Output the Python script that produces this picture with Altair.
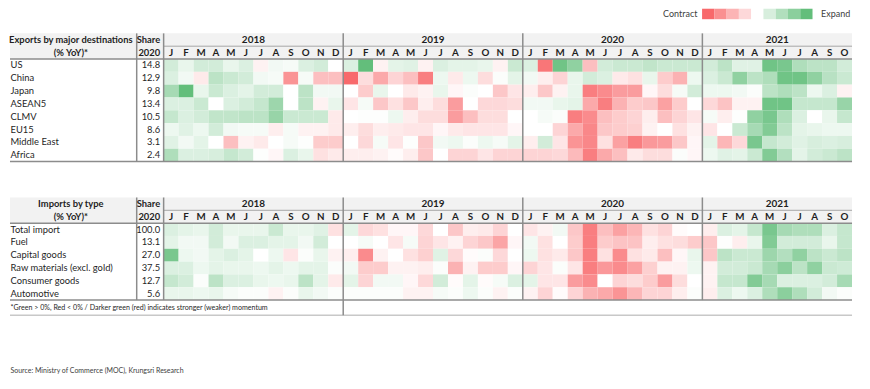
import altair as alt
import pandas as pd

# ---------------- data ----------------
years = ["2018", "2019", "2020", "2021"]
months_per_year = [12, 12, 12, 10]
month_letters = ["J", "F", "M", "A", "M", "J", "J", "A", "S", "O", "N", "D"]

export_title = ["Exports by major destinations", "(% YoY)*"]
export_rows = ["US", "China", "Japan", "ASEAN5", "CLMV", "EU15", "Middle East", "Africa"]
export_share = ["14.8", "12.9", "9.8", "13.4", "10.5", "8.6", "3.1", "2.4"]

us = [1, 0.5, 1, 1, 0.5, 0.8, -0.3, 0.3, 0.2, 0.8, 1, 0,
      0.8, 3.5, -0.3, 0.6, 0.7, -0.3, 0.8, 0.6, 0.6, 0.5, -0.3, 1.2,
      0.8, -3.2, 3.2, 2.5, -1.5, 1, 1.2, 1.2, 1.4, 1.2, 1.2, 1.2,
      1, 1.5, 0.7, 0.7, 3.2, 3, 1.8, 1.5, 1.5, 1]
china = [0.8, 0.3, -0.5, 1.5, 1.2, 1, 0.3, 0.2, -2.5, 0.2, -1.5, -1.5,
         -3.5, -0.8, -2, -1, -1.5, -3, 0.4, -0.5, 0.4, -0.8, 0.1, 0.6,
         0.3, -0.4, -1, 0.5, 1, 0.8, -0.5, -0.7, 0.5, -1.2, -1.8, 0.4,
         0.8, 1.2, 2.5, 1.5, 1.8, 3.2, 3.2, 2.5, 1.6, 1.2]
japan = [2, 3.5, 0.5, 1.2, 0.8, 0.6, 1, 1, 0, 1.5, 0.3, 0.3,
         0, -1.2, 0.5, 0, -0.5, -0.3, 0.5, -0.2, 0.1, 0, -1.3, -0.6,
         -0.4, -1.3, -0.3, 0.5, -3, -2.7, -2.3, -2.3, -0.2, -0.8, 0.2, 1,
         0.4, 0.4, 0.3, 0.1, 1.5, 1.8, 1.5, 0.4, 0.8, -0.3]
asean5 = [0.8, 0.8, 1.2, 0, 0.8, 1, 1.3, 2.2, 0, 1.5, -0.3, 0.5,
          -0.6, 0.2, -1.3, -0.7, -1.3, -0.4, -0.8, -2.3, 0, -0.9, -0.9, -0.8,
          0.3, 0.3, 0.5, 0.6, -2, -3, -1.8, -1.2, -1.3, -2.2, -1.2, 0,
          -0.9, -1.4, -0.3, -0.3, 3.2, 3.2, 1.3, 1.3, 1.3, 2.3]
clmv = [1.3, 0.8, 1, 1.4, 1.4, 1.5, 1.5, 2.3, 1.2, 1.2, 1.2, -0.5,
        0, 0.05, 0.05, 0.4, -0.4, -0.8, -0.8, -2.3, -1.5, -0.8, -0.8, 0,
        0, 0.2, 0.1, -3, -2.7, -1.5, -1.2, -1, -0.4, -1.5, -1, -0.6,
        0.2, -0.4, 0.05, 2.5, 3, 1.8, 0.8, 0, 0.5, 1.3]
eu15 = [0.4, 0.7, 0.4, 1, 0.3, 0.2, 0.2, -0.4, 0.2, -0.3, -0.3, -0.5,
        -0.4, -0.8, -0.4, -0.5, -0.6, -0.6, -0.2, -0.5, -0.6, -0.6, -0.6, -0.2,
        0, 0, -1, -2, -2.8, -1.3, -1.2, -1.1, -0.3, 0, -0.7, -0.3,
        -0.6, 0, 1.2, 2, 2.8, 1.5, 0.6, 0.5, 0.4, 0.4]
middle_east = [0.7, 0.3, 0.6, 0, -1.5, -0.3, -0.5, 0, 0.2, 0.05, -1.2, -1.2,
               0, -0.9, 0.2, -0.6, 0.05, -1.3, 0.3, 0.4, 0.1, 0.4, 0.2, 0.6,
               -0.4, 1, -0.6, -2.5, -2.8, -0.7, -2.2, -3, -2.4, -2.3, -1.3, -0.2,
               0.6, -1.7, -0.9, 3, 1.3, 1, 0.7, 0.9, 0.8, 0.9]
africa = [1.8, 0.8, 0.8, 0.9, 1.3, 1, 0.05, -0.2, 0.8, 0.5, -0.7, -0.5,
          -0.4, -0.4, -0.3, -0.1, -0.4, -1.3, 0, -1, -1, -0.6, -1, -1,
          -1, -1, -0.9, -1.6, -3, -2, -1.5, -0.5, -0.8, -0.8, 0.1, -0.2,
          0.4, 0.7, 0.6, 1.2, 2.8, 1.7, 0.6, 1, 1.2, 1.5]

import_title = ["Imports by type", "(% YoY)*"]
import_rows = ["Total import", "Fuel", "Capital goods", "Raw materials (excl. gold)",
               "Consumer goods", "Automotive"]
import_share = ["100.0", "13.1", "27.0", "37.5", "12.7", "5.6"]

total_import = [0.8, 0.6, 0.5, 1, 0.5, 0.5, 0.5, 1.2, 0.5, 0.5, 0.7, -0.7,
                0.6, -0.9, -0.7, -0.2, -0.2, -0.9, 0, -1.3, -0.4, -0.5, -1, 0,
                -0.6, -0.3, 0.3, -1.3, -3, -1.5, -2.2, -1.7, -0.7, -1, -0.1, 0,
                -0.4, 0.8, 0.6, 1.3, 3, 2, 1.8, 1.8, 0.8, 1.3]
fuel = [0.6, 0.3, 0.3, 1, 0.3, 0.8, 0.8, 0.6, 0.6, 0.3, 1, 0,
        0, 0.2, 0, -0.6, 0.2, -1, -0.6, -0.3, -1, -1.3, -2.1, -0.2,
        0.3, -0.7, 0, -1.2, -3, -1.2, -1.4, -1.4, -0.4, -0.7, -0.8, -1.2,
        -1.3, 0.05, -0.4, 0.5, 2.8, 1, 1, 1, 0.5, 1.3]
capital_goods = [3, 0.4, 0.3, 0.6, 0.8, 0.6, 0, 0.4, -0.6, 0.1, 0.5, -0.3,
                 -0.4, -2.7, -0.3, 0, -0.7, -1.1, 0.7, -0.9, -0.1, 0.1, -0.9, 0,
                 0.4, -0.7, -0.5, -1.3, -3, -0.7, -2.7, -0.7, -0.5, -1.5, -0.2, 0.5,
                 -1.3, 1.5, 1.2, 1.2, 2.2, 1.7, 2.5, 1.5, 1.2, 1.5]
raw_materials = [0.8, 0.8, 0.4, 0.6, 0.5, 0.5, 0.4, 0.6, 0.4, 0.6, 0.6, 0.1,
                 0.3, -1.2, -1.2, -0.3, -0.3, -0.4, 0.1, -1.8, -0.3, -1.2, -1.2, -0.2,
                 -1, -0.6, 0.1, -0.6, -3, -2.4, -2.7, -2.2, -1.1, -0.3, -0.3, 0.4,
                 -0.3, 1, 1, 1.2, 2, 2.6, 1.5, 2.5, 1.2, 1.1]
consumer_goods = [1.3, 1, 0.1, 1.5, 0.8, 0.8, 0.5, 0.4, 0.5, 1.5, 0.6, -0.5,
                  0.6, -1, 0.3, 0.3, -0.2, -0.9, 1, -0.1, 0.6, -0.1, 0.2, 0.8,
                  0.6, -0.6, -0.6, -2.3, -2.7, 0, -1, -0.8, -1.2, -2.3, -0.8, 0,
                  -0.3, 1.3, 1.3, 2.8, 2, 0.8, 0.8, 0.8, 1, 2]
automotive = [0.5, 0.5, 0.4, 0.5, 0.2, 0.1, 0.1, -0.3, 0.1, 0.5, 0.3, 0.1,
              0.1, 0.1, 0.1, 0.1, -0.3, -0.3, 0.2, 0.1, 0.4, 0.1, -0.3, 0.1,
              -0.3, -1, -0.1, -1, -1.8, -2, -2.5, -1.7, -1, -1, -0.4, 0.1,
              -0.4, 0.8, 0.4, 0.8, 1.8, 2.6, 1.8, 1, 0.3, 0.1]

export_values = [us, china, japan, asean5, clmv, eu15, middle_east, africa]
import_values = [total_import, fuel, capital_goods, raw_materials, consumer_goods, automotive]

legend_levels = [-3.5, -2.6, -1.75, -0.9, 0, 0.9, 1.75, 2.6, 3.5]
footnote = "*Green > 0%, Red < 0% / Darker green (red) indicates stronger (weaker) momentum"
source = "Source: Ministry of Commerce (MOC), Krungsri Research"

# ---------------- layout helpers ----------------
W, H = 854, 368
CW, RH = 15.0, 12.85          # cell width / row height in px
GX, GY = 162.0, 33.0          # page position of grid start / top of first table


def cx(page_x):
    return (page_x - GX) / CW


def ry(page_y):
    return (page_y - GY) / RH


XS = alt.Scale(domain=[cx(8), cx(8 + W)], nice=False, zero=False)
YS = alt.Scale(domain=[ry(8), ry(8 + H)], nice=False, zero=False, reverse=True)
NCOL = sum(months_per_year)
LEFT = cx(8.5)
T2 = ry(197.5)  # top of second table (row units)
tables = [(0.0, export_title, export_rows, export_share, export_values),
          (T2, import_title, import_rows, import_share, import_values)]

FONT = "Lato"
TXT = "#1f1f1f"
LINE = "#8c8c8c"
color_scale = alt.Scale(domain=[-3.5, 0, 3.5], range=["#F8696B", "#FFFFFF", "#63BE7B"],
                        clamp=True, interpolate="rgb")

# ---------------- build tables ----------------
cells, bgs, hl, vl = [], [], [], []
t_left, t_right, t_center_b, t_right_b, t_year, t_month = [], [], [], [], [], []
for r0, title, rows, shares, vals in tables:
    bgs.append({"x": cx(8), "x2": NCOL, "y": r0, "y2": r0 + 2})
    for i, (name, sh, series) in enumerate(zip(rows, shares, vals)):
        rr = r0 + 2 + i
        t_left.append({"x": LEFT, "y": rr + 0.5, "t": name})
        t_right.append({"x": cx(158.5), "y": rr + 0.5, "t": sh})
        for c, v in enumerate(series):
            cells.append({"x": c, "x2": c + 1, "y": rr, "y2": rr + 1, "v": v})
    nrows = len(rows)
    t_center_b.append({"x": cx(69), "y": r0 + 0.5, "t": title[0]})
    t_center_b.append({"x": cx(69), "y": r0 + 1.5, "t": title[1]})
    t_right_b.append({"x": cx(158.5), "y": r0 + 0.5, "t": "Share"})
    t_right_b.append({"x": cx(158.5), "y": r0 + 1.5, "t": "2020"})
    start = 0
    for yname, n in zip(years, months_per_year):
        t_year.append({"x": start + n / 2, "y": r0 + 0.5, "t": yname})
        for m in range(n):
            t_month.append({"x": start + m + 0.5, "y": r0 + 1.5, "t": month_letters[m]})
        start += n
    bottom = r0 + 2 + nrows
    hl.append({"x": 0, "x2": NCOL, "y": r0 + 1, "c": "#a6a6a6", "w": 1})
    hl.append({"x": cx(8), "x2": NCOL, "y": r0 + 2, "c": LINE, "w": 1.5})
    hl.append({"x": cx(8), "x2": NCOL, "y": bottom, "c": LINE, "w": 1.5})
    for xv in [cx(135), 0, 12, 24, 36]:
        vl.append({"x": xv, "y": r0, "y2": bottom, "c": LINE, "w": 1.5})

# footnote row of second table
foot_bottom = ry(315.5)
vl.append({"x": 12, "y": T2 + 2 + len(import_rows), "y2": foot_bottom, "c": LINE, "w": 1.5})
hl.append({"x": cx(8), "x2": NCOL, "y": foot_bottom, "c": "#c8c8c8", "w": 1.5})

legend = [{"x": cx(701.7 + 12.3 * i), "x2": cx(701.7 + 12.3 * (i + 1)),
           "y": ry(8.3), "y2": ry(18.8), "v": v} for i, v in enumerate(legend_levels)]


def X(f="x"):
    return alt.X(f"{f}:Q", scale=XS, axis=None)


def Y(f="y"):
    return alt.Y(f"{f}:Q", scale=YS, axis=None)


def rects(rows, **kw):
    return alt.Chart(pd.DataFrame(rows)).mark_rect(**kw).encode(
        x=X(), x2="x2:Q", y=Y(), y2="y2:Q")


bg_layer = rects(bgs, color="#f2f2f2")
cell_layer = rects(cells).encode(color=alt.Color("v:Q", scale=color_scale, legend=None))
leg_layer = rects(legend).encode(color=alt.Color("v:Q", scale=color_scale, legend=None))

h_layer = alt.Chart(pd.DataFrame(hl)).mark_rule().encode(
    x=X(), x2="x2:Q", y=Y(),
    color=alt.Color("c:N", scale=None), strokeWidth=alt.StrokeWidth("w:Q", scale=None))
v_layer = alt.Chart(pd.DataFrame(vl)).mark_rule().encode(
    x=X(), y=Y(), y2="y2:Q",
    color=alt.Color("c:N", scale=None), strokeWidth=alt.StrokeWidth("w:Q", scale=None))


def texts(rows, **kw):
    base = dict(font=FONT, fontSize=9.4, color=TXT, baseline="middle")
    base.update(kw)
    return alt.Chart(pd.DataFrame(rows)).mark_text(**base).encode(x=X(), y=Y(), text="t:N")


txt_layers = [
    texts(t_left, align="left"),
    texts(t_right, align="right"),
    texts(t_center_b, align="center", fontWeight="bold"),
    texts(t_right_b, align="right", fontWeight="bold"),
    texts(t_year, align="center", fontWeight="bold", fontSize=10),
    texts(t_month, align="center", fontWeight="bold", fontSize=9.8),
    texts([{"x": LEFT, "y": ry(308), "t": footnote}], align="left", fontSize=7.1),
    texts([{"x": LEFT, "y": ry(371.5), "t": source}], align="left", fontSize=7.0, color="#404040"),
    texts([{"x": cx(697), "y": ry(13.5), "t": "Contract"}], align="right", fontSize=9, color="#404040"),
    texts([{"x": cx(821), "y": ry(13.5), "t": "Expand"}], align="left", fontSize=9, color="#404040"),
]

chart = alt.layer(bg_layer, cell_layer, leg_layer, h_layer, v_layer, *txt_layers).properties(
    width=W, height=H, padding=0, background="white"
).configure_view(stroke=None)

chart.save("out.html", embed_options={"renderer": "svg", "actions": False})
